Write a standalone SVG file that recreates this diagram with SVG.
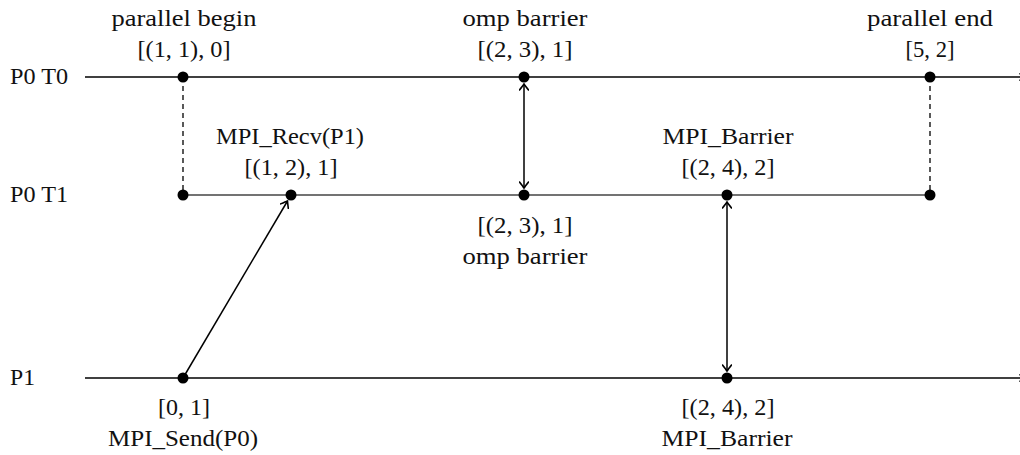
<svg xmlns="http://www.w3.org/2000/svg" width="1020" height="455" viewBox="0 0 1020 455">
  <style>
    text { font-family: "Liberation Serif", "Times New Roman", serif; font-size: 24px; fill: #111; }
    .mid { text-anchor: middle; }
    .tl { stroke: #000; stroke-width: 1.3; fill: none; }
    .tl-grey { stroke: #444; stroke-width: 1.3; fill: none; }
    .dash { stroke: #000; stroke-width: 1.3; stroke-dasharray: 5 4; fill: none; }
    .msg { stroke: #000; stroke-width: 1.5; fill: none; }
    .dot { fill: #000; }
  </style>
  <defs>
    <marker id="tip" viewBox="-7 -5 9 10" refX="0" refY="0" markerWidth="9" markerHeight="10" markerUnits="userSpaceOnUse" orient="auto-start-reverse">
      <path d="M-6,-4.5 Q-1.5,-1 0,0 Q-1.5,1 -6,4.5" fill="none" stroke="#000" stroke-width="1.6" stroke-linecap="round"/>
    </marker>
  </defs>

  <!-- timelines -->
  <g id="timelines">
    <line class="tl" x1="85" y1="77" x2="1020" y2="77"/>
    <path d="M1019,73.5 L1024,77 L1019,80.5" fill="none" stroke="#000" stroke-width="1"/>
    <line class="tl-grey" x1="183" y1="195" x2="930" y2="195"/>
    <line class="tl" x1="85" y1="378" x2="1020" y2="378"/>
    <path d="M1019,374.5 L1024,378 L1019,381.5" fill="none" stroke="#000" stroke-width="1"/>
    <text x="10" y="84" textLength="58" lengthAdjust="spacingAndGlyphs">P0 T0</text>
    <text x="10" y="202" textLength="58" lengthAdjust="spacingAndGlyphs">P0 T1</text>
    <text x="10" y="385" textLength="25" lengthAdjust="spacingAndGlyphs">P1</text>
  </g>

  <!-- connectors -->
  <g id="connectors">
    <line class="dash" x1="183" y1="77" x2="183" y2="195"/>
    <line class="dash" x1="930" y1="77" x2="930" y2="195"/>
    <line class="msg" x1="524" y1="84" x2="524" y2="188" marker-start="url(#tip)" marker-end="url(#tip)"/>
    <line class="msg" x1="727" y1="202" x2="727" y2="371" marker-start="url(#tip)" marker-end="url(#tip)"/>
    <line class="msg" x1="183" y1="378" x2="287.5" y2="201" marker-end="url(#tip)"/>
  </g>

  <!-- events on P0 T0 -->
  <g id="parallel-begin">
    <circle class="dot" cx="183" cy="77" r="5.5"/>
    <text class="mid" x="184" y="26" textLength="145" lengthAdjust="spacingAndGlyphs">parallel begin</text>
    <text class="mid" x="184" y="57" textLength="93" lengthAdjust="spacingAndGlyphs">[(1, 1), 0]</text>
  </g>
  <g id="omp-barrier-t0">
    <circle class="dot" cx="524" cy="77" r="5.5"/>
    <text class="mid" x="525" y="26" textLength="125" lengthAdjust="spacingAndGlyphs">omp barrier</text>
    <text class="mid" x="525" y="57" textLength="95" lengthAdjust="spacingAndGlyphs">[(2, 3), 1]</text>
  </g>
  <g id="parallel-end">
    <circle class="dot" cx="930" cy="77" r="5.5"/>
    <text class="mid" x="930" y="26" textLength="126" lengthAdjust="spacingAndGlyphs">parallel end</text>
    <text class="mid" x="930" y="57" textLength="49" lengthAdjust="spacingAndGlyphs">[5, 2]</text>
  </g>

  <!-- events on P0 T1 -->
  <g id="t1-begin">
    <circle class="dot" cx="183" cy="195" r="5.5"/>
  </g>
  <g id="mpi-recv">
    <circle class="dot" cx="291" cy="195" r="5.5"/>
    <text class="mid" x="290" y="144" textLength="148" lengthAdjust="spacingAndGlyphs">MPI_Recv(P1)</text>
    <text class="mid" x="291" y="175" textLength="93" lengthAdjust="spacingAndGlyphs">[(1, 2), 1]</text>
  </g>
  <g id="omp-barrier-t1">
    <circle class="dot" cx="524" cy="195" r="5.5"/>
    <text class="mid" x="525" y="233" textLength="95" lengthAdjust="spacingAndGlyphs">[(2, 3), 1]</text>
    <text class="mid" x="525" y="264" textLength="125" lengthAdjust="spacingAndGlyphs">omp barrier</text>
  </g>
  <g id="mpi-barrier-t1">
    <circle class="dot" cx="727" cy="195" r="5.5"/>
    <text class="mid" x="728" y="144" textLength="131" lengthAdjust="spacingAndGlyphs">MPI_Barrier</text>
    <text class="mid" x="728" y="175" textLength="93" lengthAdjust="spacingAndGlyphs">[(2, 4), 2]</text>
  </g>
  <g id="t1-end">
    <circle class="dot" cx="930" cy="195" r="5.5"/>
  </g>

  <!-- events on P1 -->
  <g id="mpi-send">
    <circle class="dot" cx="183" cy="378" r="5.5"/>
    <text class="mid" x="184" y="415" textLength="52" lengthAdjust="spacingAndGlyphs">[0, 1]</text>
    <text class="mid" x="183" y="446" textLength="150" lengthAdjust="spacingAndGlyphs">MPI_Send(P0)</text>
  </g>
  <g id="mpi-barrier-p1">
    <circle class="dot" cx="727" cy="378" r="5.5"/>
    <text class="mid" x="728" y="415" textLength="93" lengthAdjust="spacingAndGlyphs">[(2, 4), 2]</text>
    <text class="mid" x="727" y="446" textLength="131" lengthAdjust="spacingAndGlyphs">MPI_Barrier</text>
  </g>
</svg>
